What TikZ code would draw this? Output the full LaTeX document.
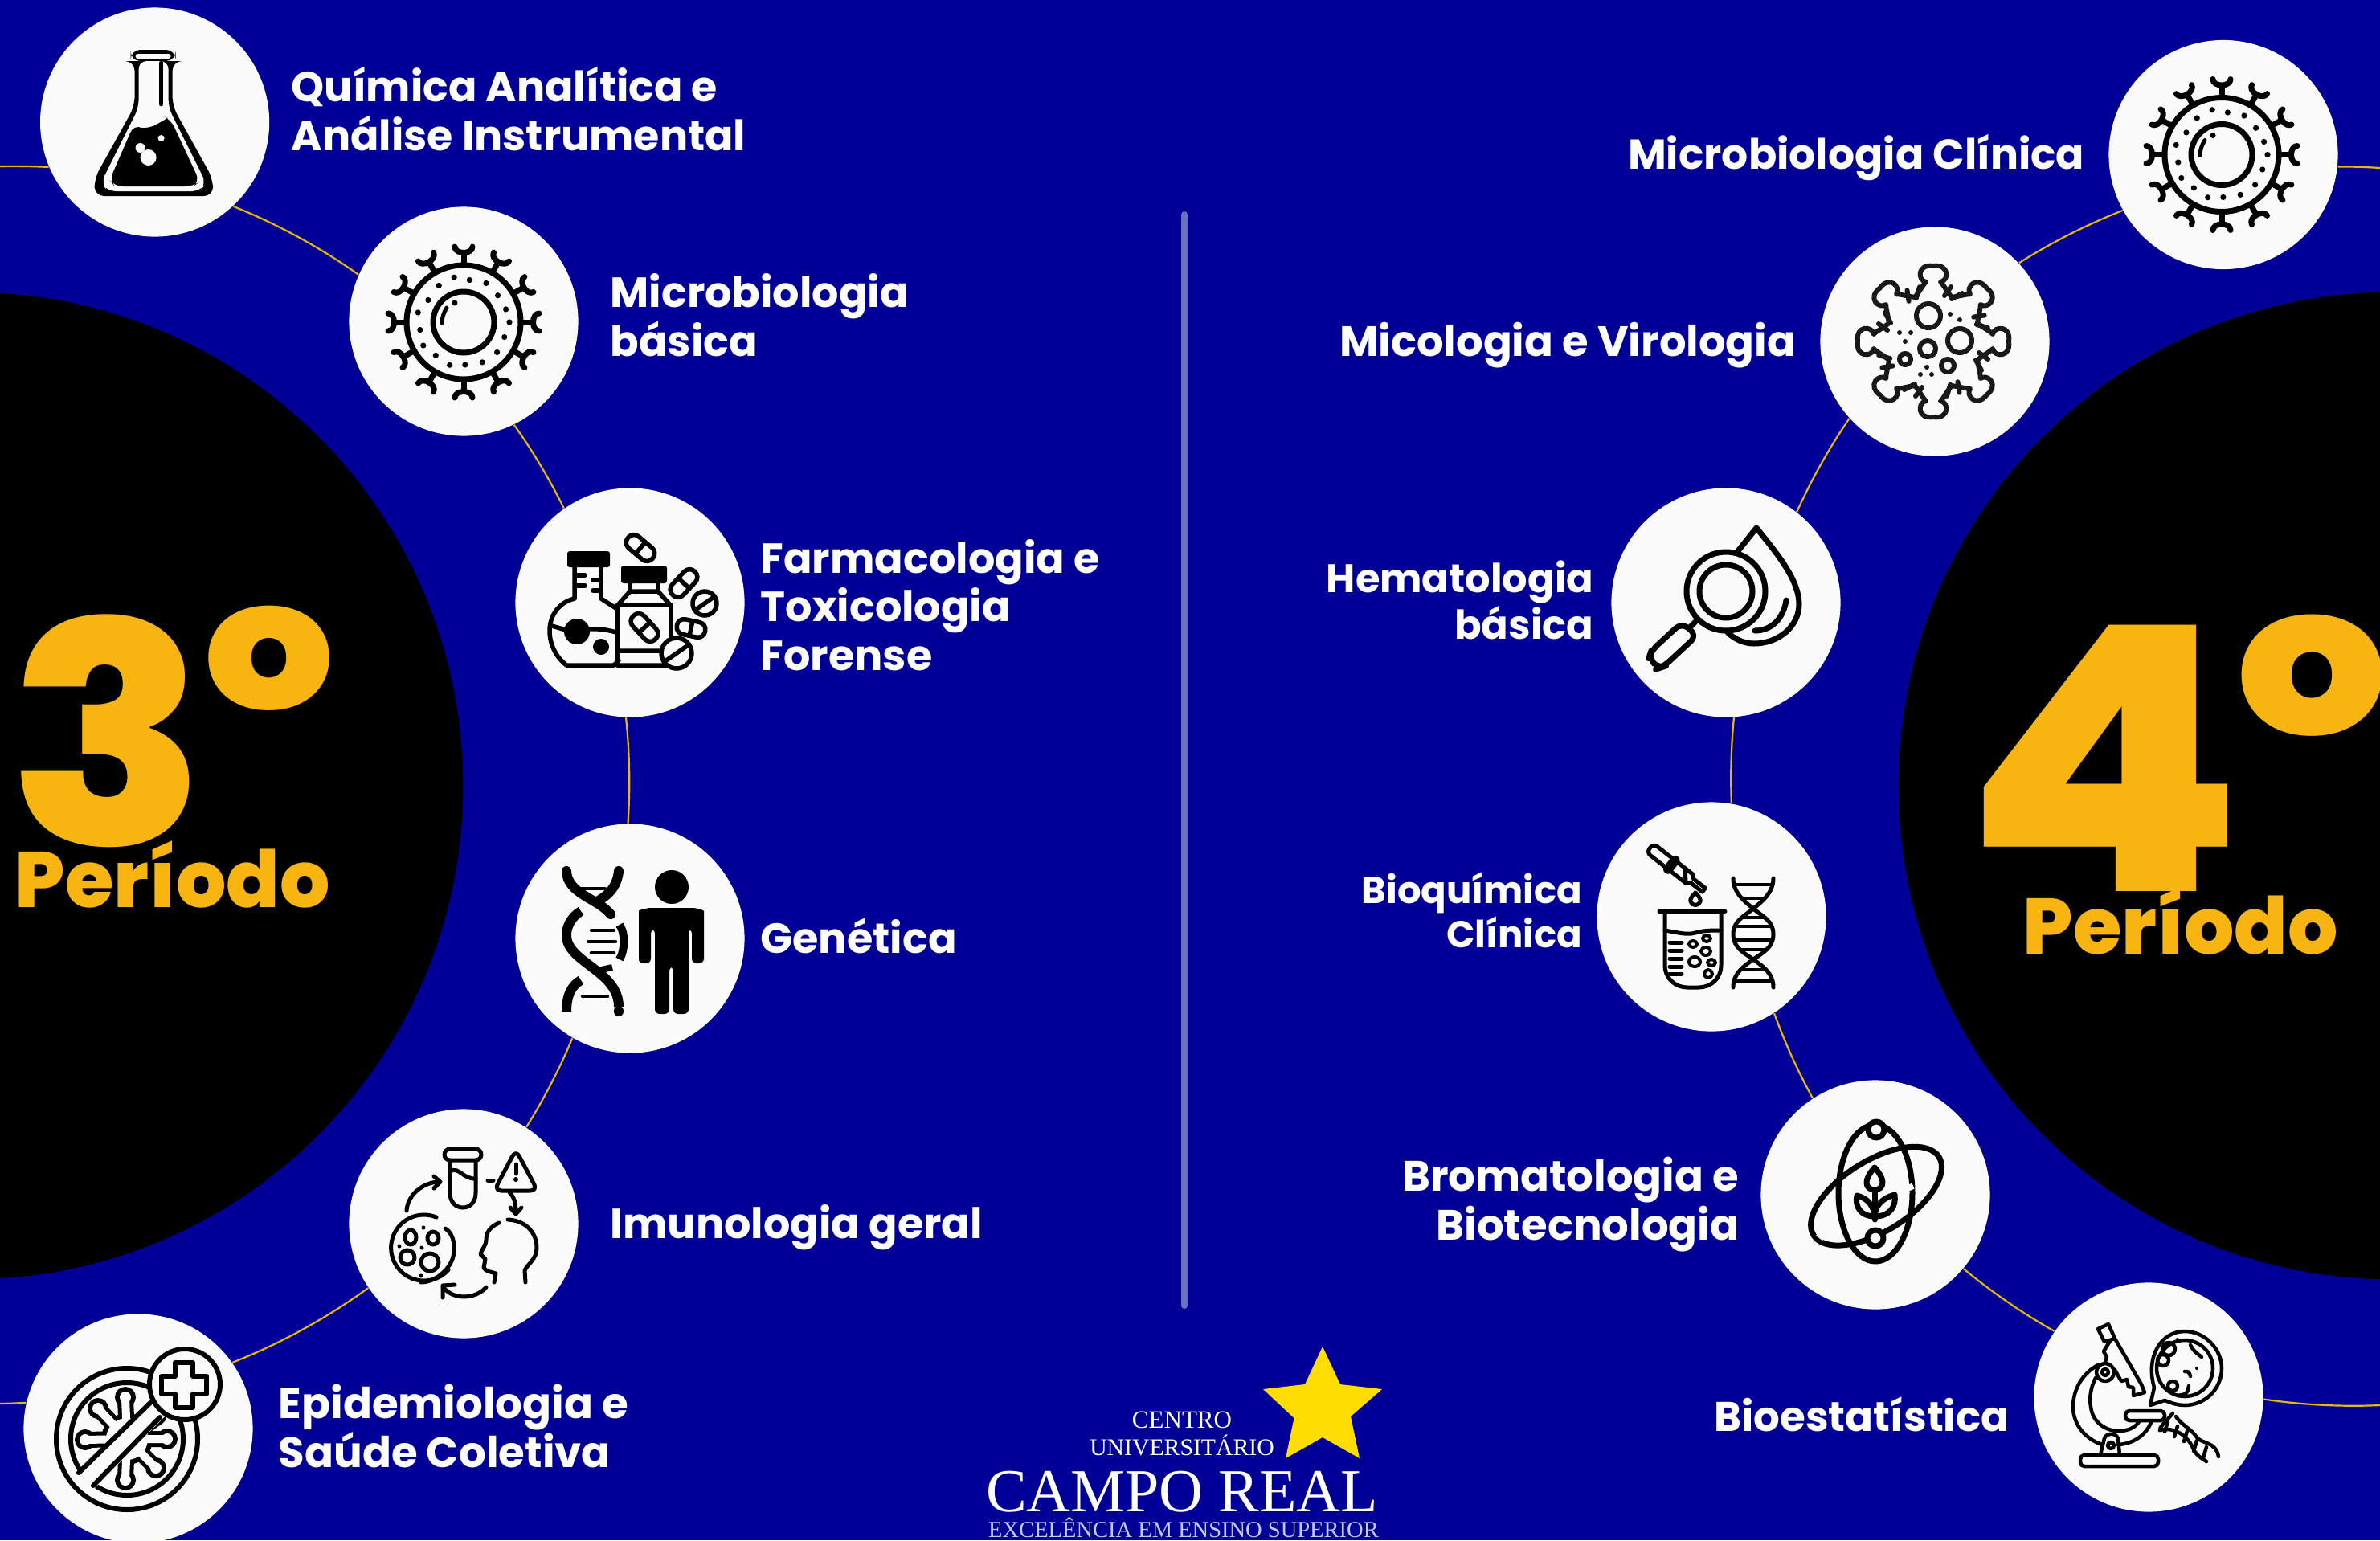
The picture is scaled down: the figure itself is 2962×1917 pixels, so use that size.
\documentclass[tikz,border=0pt]{standalone}
\usepackage{fontspec}
\setmainfont{Liberation Serif}
\newfontfamily\lbl{Poppins}[UprightFont=* Bold]
\newfontfamily\heavy{Poppins}[UprightFont=* ExtraBold]
\definecolor{bgblue}{HTML}{000096}
\definecolor{paper}{HTML}{FBFBFB}
\definecolor{arcgold}{HTML}{E6B80C}
\definecolor{numgold}{HTML}{F8B411}
\definecolor{divcol}{HTML}{6B70C0}
\definecolor{stargold}{HTML}{FFDD00}
\definecolor{mott}{HTML}{C6C9EC}
\newcommand{\pxfont}[1]{\fontsize{\fpeval{#1*0.28453}pt}{\fpeval{#1*0.28453*1.15}pt}\selectfont}
\newcommand{\pxl}[2]{\fontsize{\fpeval{#1*0.28453}pt}{\fpeval{#2*0.28453}pt}\selectfont}
\tikzset{
 disc/.style={circle,fill=paper,inner sep=0pt,minimum size=2.85cm},
 bigdisc/.style={circle,fill=black,inner sep=0pt,minimum size=12.28cm},
 arcline/.style={draw=arcgold,line width=0.022cm,looseness=.85},
 lab/.style={text=white,inner sep=0pt},
 labL/.style={lab,anchor=base west,align=left,font={\lbl\pxl{52.4}{60}}},
 labR/.style={lab,anchor=base east,align=right,font={\lbl\pxl{52.4}{60}}},
 bign/.style={text=numgold,inner sep=0pt,font=\heavy,anchor=base west},
 logot/.style={inner sep=0pt,text=white,anchor=base},
 ic/.style={draw=black,line width=0.07cm,line cap=round,line join=round},
 ict/.style={draw=black,line width=0.05cm,line cap=round,line join=round},
}
\newcommand{\cellicon}{%
 \draw[ic] (0,0) circle[radius=71];
 \draw[ic] (0,0) circle[radius=38];
 \foreach \a in {0,30,...,330}{%
  \begin{scope}[rotate=\a]
   \draw[ic] (72,0)--(86,0);
   \draw[ic] (94,-11) .. controls (84,-11) and (84,11) .. (94,11);
  \end{scope}}
 \foreach \a/\r in {0/57,20/54,42/56,65/55,88/53,108/56,130/54,150/58,170/55,192/58,212/52,236/55,258/57,278/53,300/56,322/54,343/55}{\fill (\a:\r) circle[radius=3.6];}
 \draw[ic,line width=0.05cm] (-21,-18) .. controls (-25,-12) and (-27,-5) .. (-27,1);
 \fill (-11,-24) circle[radius=3.5];
}
\newcommand{\capsicon}[4]{%
 \begin{scope}[shift={(#1,#2)},rotate=#3]
  \draw[ic,line width=0.055cm,fill=paper,rounded corners=0.09cm] (-#4,-9.5) rectangle (#4,9.5);
  \draw[ic,line width=0.055cm] (0,-9.5)--(0,9.5);
 \end{scope}}
\newcommand{\pillicon}[4]{%
 \begin{scope}[shift={(#1,#2)}]
  \draw[ic,line width=0.055cm,fill=paper] (0,0) circle[radius=#3];
  \draw[ic,line width=0.055cm,rotate=#4] (-#3,0)--(#3,0);
 \end{scope}}
\begin{document}
\begin{tikzpicture}[x=0.01cm,y=-0.01cm]
\path[use as bounding box,fill=bgblue] (0,0) rectangle (2962,1917);
\node[bigdisc] (bigL) at (-38,978) {};
\node[bigdisc] (bigR) at (2977,978) {};
\draw[line width=0.08cm,line cap=round,draw=divcol] (1474,267)--(1474,1625);
% nodes
\node[disc] (L1) at (192.6,152) {};
\node[disc] (L2) at (577,400) {};
\node[disc] (L3) at (784,750) {};
\node[disc] (L4) at (784,1168) {};
\node[disc] (L5) at (577,1523) {};
\node[disc] (L6) at (172,1778) {};
\node[disc] (R1) at (2767,192.5) {};
\node[disc] (R2) at (2408,425) {};
\node[disc] (R3) at (2148,750) {};
\node[disc] (R4) at (2130,1141) {};
\node[disc] (R5) at (2334,1487) {};
\node[disc] (R6) at (2674,1739) {};
\coordinate (fL1) at (0,207);
\coordinate (fL2) at (0,1747);
\coordinate (fR1) at (2962,209);
\coordinate (fR2) at (2962,1749);
% connectors
\draw[arcline] (fL1) to[bend left=2] (L1.203);
\draw[arcline] (L1.-47) to[bend left=6.7] (L2.156);
\draw[arcline] (L2.-64) to[bend left=4.6] (L3.125);
\draw[arcline] (L3.-92) to[bend left=5] (L4.91);
\draw[arcline] (L4.-120) to[bend left=4.7] (L5.57);
\draw[arcline] (L5.214.5) to[bend left=7.2] (L6.35);
\draw[arcline] (L6.167) to[bend left=1.3] (fL2);
\draw[arcline] (fR1) to[bend right=2] (R1.-6.3);
\draw[arcline] (R1.209) to[bend right=5.4] (R2.43);
\draw[arcline] (R2.222.7) to[bend right=5] (R3.52.8);
\draw[arcline] (R3.-86.4) to[bend right=4] (R4.80.7);
\draw[arcline] (R4.-57.6) to[bend right=4.4] (R5.123);
\draw[arcline] (R5.-40.7) to[bend right=5.1] (R6.145);
\draw[arcline] (R6.-1.2) to[bend right=5.5] (fR2);
% labels left
\node[labL,font={\lbl\pxl{52.2}{60}}] (tL1) at (362,187) {Química Analítica e\\Análise Instrumental};
\node[labL] (tL2) at (759,443) {Microbiologia\\básica};
\node[labL] (tL3) at (946,834) {Farmacologia e\\Toxicologia\\Forense};
\node[labL] (tL4) at (946,1186) {Genética};
\node[labL] (tL5) at (759,1541) {Imunologia geral};
\node[labL,font={\lbl\pxl{53}{60}}] (tL6) at (346,1826) {Epidemiologia e\\Saúde Coletiva};
% labels right
\node[labR,font={\lbl\pxl{52}{60}}] (tR1) at (2595,210.5) {Microbiologia Clínica};
\node[labR,font={\lbl\pxl{52.8}{60}}] (tR2) at (2236,443) {Micologia e Virologia};
\node[labR,font={\lbl\pxl{49.5}{57}}] (tR3) at (1984,795) {Hematologia\\básica};
\node[labR,font={\lbl\pxl{46.5}{54}}] (tR4) at (1970,1179) {Bioquímica\\Clínica};
\node[labR,font={\lbl\pxl{52.9}{60}}] (tR5) at (2165,1543) {Bromatologia e\\Biotecnologia};
\node[labR,font={\lbl\pxl{51.5}{60}}] (tR6) at (2501,1781) {Bioestatística};
% numbers
\node[bign] (n3) at (10,1052) {\pxfont{385}\scalebox{1.05}[1]{3}\hspace{-0.06cm}\raisebox{0.42cm}{\pxfont{360}º}};
\node[bign] (p3) at (18,1129) {\pxfont{98}Período};
\node[bign] (n4) at (2443,1109) {\pxfont{460}\scalebox{1.1}[1]{4}\hspace{-0.13cm}\raisebox{0.47cm}{\pxfont{418}º}};
\node[bign] (p4) at (2517,1187) {\pxfont{98}Período};
% logo
\path[fill=stargold] (1646,1676)--(1668,1723)--(1720,1729)--(1681,1763)--(1692,1815)--(1646,1789)--(1600,1815)--(1610.5,1765)--(1572,1729)--(1624,1723)--cycle;
\node[logot] (lg1) at (1471,1777) {\pxfont{31}CENTRO};
\node[logot] (lg2) at (1471,1811) {\pxfont{29.7}UNIVERSITÁRIO};
\node[logot] (lg3) at (1471,1881) {\pxfont{76}CAMPO REAL};
\node[logot,text=mott] (lg4) at (1473,1913) {\pxfont{28.5}EXCELÊNCIA EM ENSINO SUPERIOR};
% ---- icon L1 flask
\begin{scope}[shift={(L1.center)}]
 \fill[black,rounded corners=0.12cm] (-30,-90) -- (26,-90) -- (26,-76) -- (22,-76) -- (22,-20) -- (72,70) -- (73,92) -- (-75,92) -- (-75,70) -- (-25,-20) -- (-25,-76) -- (-30,-76) -- cycle;
 \fill[paper,rounded corners=0.03cm] (-24,-85) -- (20,-85) -- (20,-79) -- (-24,-79) -- cycle;
 \fill[paper,rounded corners=0.1cm] (-20,-76) -- (17,-76) -- (17,-18) -- (64,76) -- (56,86) -- (-58,86) -- (-67,76) -- (-20,-18) -- cycle;
 \fill[black,rounded corners=0.1cm] (-26,3) .. controls (-14,8) and (-4,6) .. (8,0) .. controls (14,-4) and (18,-4) .. (20,-3) -- (56,74) -- (48,80) -- (-50,80) -- (-56,72) -- cycle;
 \draw[line width=0.045cm,line cap=round] (8,-74)--(8,-22);
 \fill[paper] (-18,32) circle[radius=6];
 \fill[paper] (-8,44) circle[radius=10];
 \fill[paper] (8,20) circle[radius=4];
\end{scope}
% ---- L2 cell
\begin{scope}[shift={(L2.center)},yshift=-0.01cm]\cellicon\end{scope}
% ---- R1 cell
\begin{scope}[shift={(R1.center)},xshift=-0.02cm]\cellicon\end{scope}
% ---- L3 flask and pills
\begin{scope}[shift={(L3.center)}]
 \fill[rounded corners=0.03cm] (-78,-64) rectangle (-25,-44);
 \draw[ic,line width=0.055cm] (-69,-44)--(-69,-5) .. controls (-90,0) and (-100,18) .. (-100,35) .. controls (-100,52) and (-92,68) .. (-79,78) -- (-20,78) -- (-14,72);
 \draw[ic,line width=0.055cm] (-36,-44)--(-36,-5)--(-16,8);
 \draw[ic,line width=0.055cm] (-66,-34)--(-56,-34) (-66,-21)--(-56,-21) (-46,-28)--(-36,-28) (-46,-15)--(-36,-15);
 \draw[ic,line width=0.055cm] (-97,29)--(-80,34) (-51,33) .. controls (-40,32) and (-28,34) .. (-17,37);
 \fill (-66,36) ellipse[x radius=16,y radius=16];
 \fill (-36,55) circle[radius=10];
 \fill[rounded corners=0.03cm] (-11,-46) rectangle (46,-24);
 \draw[ic,line width=0.055cm] (0,-24)--(0,-14) (35,-24)--(35,-14) (0,-14)--(35,-14) (0,-14)--(-16,4)--(-16,78)--(51,78)--(51,4)--(35,-14) (-16,3)--(51,3) (-16,60)--(51,60);
 \capsicon{18}{31}{-47}{20}
 \capsicon{13}{-68}{-40}{20}
 \capsicon{67}{-24}{47}{20}
 \pillicon{93}{1}{15}{35}
 \capsicon{76}{32}{-12}{18}
 \pillicon{58}{63}{19}{35}
\end{scope}
% ---- L4 DNA and person
\begin{scope}[shift={(L4.center)}]
 \fill (52,-64) circle[radius=21];
 \fill[rounded corners=0.06cm] (11,25) -- (11,-28) .. controls (11,-36) and (25,-38) .. (30,-38) -- (73,-38) .. controls (80,-38) and (92,-36) .. (92,-28) -- (92,31) -- (77,31) -- (77,-12) -- (73,-12) -- (73,94) -- (54,94) -- (54,35) -- (49,35) -- (49,94) -- (31,94) -- (31,-12) -- (26,-12) -- (26,31) -- (11,31) -- cycle;
 \begin{scope}[line width=0.12cm,line cap=round]
  \draw (-79,-84) .. controls (-78,-55) and (-40,-50) .. (-24,-30);
  \draw[line cap=butt] (-14,-84) .. controls (-16,-62) and (-30,-52) .. (-41,-46);
  \draw (-14,-84)--(-14,-83);
  \draw[line cap=butt] (-61,-34) .. controls (-74,-26) and (-79,-14) .. (-79,-4) .. controls (-79,30) and (-14,40) .. (-14,85);
  \draw (-14,90)--(-14,91);
  \draw[line cap=butt] (-61,52) .. controls (-72,58) and (-79,70) .. (-79,91);
  \draw[line cap=butt,line width=0.1cm] (-13,-17) .. controls (-6,-8) and (-6,15) .. (-13,26);
  \draw[line cap=butt,line width=0.08cm] (-40,40)--(-22,36);
 \end{scope}
 \begin{scope}[line width=0.045cm,line cap=round]
  \draw (-60,-62)--(-31,-62) (-48,-10)--(-20,-10) (-52,4)--(-18,4) (-48,18)--(-20,18) (-59,72)--(-28,72);
 \end{scope}
\end{scope}
% ---- L5
\begin{scope}[shift={(L5.center)}]
 \draw[ict,rounded corners=0.07cm] (-24,-93) rectangle (22,-79);
 \draw[ict] (-17,-79)--(-17,-38) .. controls (-17,-14) and (15,-14) .. (15,-38) -- (15,-79);
 \draw[ict] (-17,-65) .. controls (-6,-72) and (-1,-55) .. (15,-56);
 \draw[ict,rounded corners=0.09cm] (65,-92)--(92,-41)--(38,-41)--cycle;
 \draw[ict] (65,-74)--(65,-62); \fill (65,-55) circle[radius=3];
 \draw[ict] (30,-54)--(37,-54);
 \draw[ict] (57,-39) .. controls (64,-32) and (65,-24) .. (65,-13);
 \draw[ict] (58,-20)--(65,-12)--(72,-20);
 \draw[ict] (-71,-16) .. controls (-70,-36) and (-50,-52) .. (-30,-52);
 \draw[ict] (-37,-59)--(-29,-52)--(-37,-44);
 \draw[ict] (-34,-8) arc[start angle=-68,delta angle=-250,radius=41] ;
 \draw[ict] (-53,32)++(30,-26) .. controls (-9,14) and (-9,40) .. (-18,52) .. controls (-27,66) and (-42,73) .. (-53,73);
 \draw[ict] (-66,17) ellipse[x radius=7,y radius=9] (-38,18) ellipse[x radius=7,y radius=8] (-70,42) ellipse[x radius=9,y radius=9] (-42,48) ellipse[x radius=11,y radius=11];
 \fill (-50,5) circle[radius=2.5] (-52,30) circle[radius=2.5] (-80,28) circle[radius=2.5] (-53,65) circle[radius=2.5];
 \draw[ict] (44,-1) .. controls (32,4) and (28,12) .. (28,20) .. controls (28,28) and (22,32) .. (21,38) -- (27,44) -- (25,55) .. controls (28,60) and (35,60) .. (40,62) -- (38,73);
 \draw[ict] (55,-5) .. controls (78,-4) and (91,12) .. (91,30) .. controls (91,44) and (80,50) .. (76,58) -- (77,73);
 \draw[ict] (28,79) .. controls (18,92) and (-12,98) .. (-26,78);
 \draw[ict] (-26,92)--(-26,77)--(-11,76);
\end{scope}
% ---- L6
\begin{scope}[shift={(L6.center)}]
 \draw[ic,line width=0.06cm] (-14,13) circle[radius=88];
 \draw[ic,line width=0.06cm] (-14,13) circle[radius=70];
 \begin{scope}[line cap=round]
  \draw[line width=0.2cm] (-50,-25)--(-14,13) (-16,-39)--(-14,13) (-66,14)--(-14,13) (36,13)--(-14,13) (-16,64)--(-14,13) (22,49)--(-14,13) (25,-15)--(-14,13);
  \fill (-14,13) circle[radius=32];
  \foreach \p in {(-50,-25),(-16,-39),(-66,14),(36,13),(-16,64),(22,49)}{\fill \p circle[radius=13];}
  \draw[line width=0.1cm,paper] (-50,-25)--(-14,13) (-16,-39)--(-14,13) (-66,14)--(-14,13) (36,13)--(-14,13) (-16,64)--(-14,13) (22,49)--(-14,13) (25,-15)--(-14,13);
  \fill[paper] (-14,13) circle[radius=26];
  \foreach \p in {(-50,-25),(-16,-39),(-66,14),(36,13),(-16,64),(22,49)}{\fill[paper] \p circle[radius=7];}
 \end{scope}
 \fill[paper] (15,-36)--(-76,56)--(-56,76)--(34,-16)--cycle;
 \draw[ic,line width=0.06cm] (15,-32)--(-74,55) (27,-14)--(-56,71);
 \draw[ic,line width=0.06cm,fill=paper] (58,-55) circle[radius=44];
 \draw[ic,line width=0.06cm] (46,-82)--(68,-82)--(68,-65)--(85,-65)--(85,-43)--(68,-43)--(68,-26)--(46,-26)--(46,-43)--(29,-43)--(29,-65)--(46,-65)--cycle;
\end{scope}
% ---- R2 virus
\begin{scope}[shift={(R2.center)},line width=0.06cm,line cap=round,line join=round,draw=black!90]
 \foreach \a in {0,45,...,315}{%
  \begin{scope}[shift={(-2,0)},rotate=\a]
   \draw[black!90] (55,-23) .. controls (62,-17) and (72,-12) .. (74,-9) .. controls (76,-20) and (97,-20) .. (94,0) .. controls (97,20) and (76,20) .. (74,9) .. controls (72,12) and (62,17) .. (55,23);
   \draw[black!90] (57,14)--(68,22) (53,23)--(60,36);
  \end{scope}}
 \begin{scope}[black!90]
 \draw[black!90] (-8,-32) ellipse[x radius=15,y radius=15] (31,-1) ellipse[x radius=15,y radius=15] (-9,9) circle[radius=10] (16,30) circle[radius=8] (-37,22) circle[radius=7];
 \fill (19,-34) circle[radius=3] (31,-27) circle[radius=3] (-44,-11) circle[radius=3] (-30,-11) circle[radius=3] (-37,0) circle[radius=3] (-10,32) circle[radius=3] (-18,41) circle[radius=3] (-4,41) circle[radius=3];
 \end{scope}
\end{scope}
% ---- R3
\begin{scope}[shift={(R3.center)}]
 \draw[ic] (0,-14) circle[radius=49];
 \draw[ic] (0,-14) circle[radius=33];
 \draw[ic] (-38,24)--(-46,32);
 \draw[ic,rounded corners=0.1cm] (-55,25)--(-36,41)--(-78,80)--(-84,82)--(-96,69)--(-93,60)--cycle;
 \draw[ic] (14,-63)--(38,-93) .. controls (60,-65) and (91,-30) .. (91,2) .. controls (91,30) and (65,51) .. (35,51) .. controls (22,51) and (10,45) .. (2,37);
 \draw[ic] (75,-3) .. controls (72,18) and (58,35) .. (36,35);
\end{scope}
% ---- R4
\begin{scope}[shift={(R4.center)}]
 \begin{scope}[shift={(-45,-61)},rotate=-38]
  \draw[ict,rounded corners=0.06cm] (-40,-7) rectangle (-6,7);
  \draw[ict,line width=0.06cm,rounded corners=0.03cm] (-9,-10) rectangle (-3,10);
  \draw[ict] (-3,-7)--(22,-7)--(26,-3)--(45,-3)--(45,3)--(26,3)--(22,7)--(-3,7);
  \draw[ict] (10,-7)--(22,7);
 \end{scope}
 \draw[ict] (-20,-30) .. controls (-16,-26) and (-13,-22) .. (-14,-19) .. controls (-15,-13) and (-25,-13) .. (-26,-19) .. controls (-27,-22) and (-24,-26) .. (-20,-30);
 \draw[ict] (-65,-7)--(17,-7);
 \draw[ict] (-58,-7)--(-58,60) .. controls (-58,78) and (-44,88) .. (-30,88) -- (-16,88) .. controls (-2,88) and (12,78) .. (12,60) -- (12,-7);
 \draw[ict] (-58,17) .. controls (-40,20) and (-30,23) .. (-20,20) .. controls (-10,17) and (0,17) .. (12,17);
 \draw[ict] (-52,32)--(-37,32) (-52,42)--(-37,42) (-52,52)--(-37,52) (-52,62)--(-37,62) (-52,71)--(-37,71);
 \draw[ict,line width=0.04cm] (-23,34) ellipse[x radius=5,y radius=4] (-6,27) ellipse[x radius=5,y radius=4] (-7,43) ellipse[x radius=6,y radius=5] (-21,56) ellipse[x radius=7,y radius=6] (0,57) ellipse[x radius=5,y radius=4] (-4,71) ellipse[x radius=5,y radius=5];
 \draw[ict] (27,-48) .. controls (27,-30) and (40,-20) .. (52,-10) .. controls (64,0) and (77,5) .. (77,22) .. controls (77,38) and (64,45) .. (52,53) .. controls (40,62) and (27,70) .. (27,88);
 \draw[ict] (77,-48) .. controls (77,-30) and (64,-20) .. (52,-10) .. controls (40,0) and (27,5) .. (27,22) .. controls (27,38) and (40,45) .. (52,53) .. controls (64,62) and (77,70) .. (77,88);
 \draw[ict,line width=0.04cm] (29,-40)--(75,-40) (38,-23)--(66,-23) (37,1)--(67,1) (29,12)--(75,12) (28,29)--(76,29) (37,41)--(67,41) (37,66)--(67,66) (29,80)--(75,80);
\end{scope}
% ---- R5
\begin{scope}[shift={(R5.center)}]
 \draw[ic] (0,-2) ellipse[x radius=46,y radius=85];
 \draw[ic,rotate=32] (0,2) ellipse[x radius=92,y radius=44];
 \draw[paper,line width=0.12cm] (40,-12)--(43,-5);
 \draw[paper,line width=0.1cm] (-71,47)--(-63,53);
 \draw[ic,fill=paper] (1,-81) circle[radius=10];
 \draw[ic,fill=paper] (0,54) circle[radius=10];
 \draw[ic] (-1,31)--(-1,-6);
 \draw[ic] (-1,-34) .. controls (-8,-26) and (-11,-20) .. (-11,-15) .. controls (-11,-9) and (-6,-6) .. (-1,-6) .. controls (4,-6) and (9,-9) .. (9,-15) .. controls (9,-20) and (6,-26) .. (-1,-34);
 \draw[ic] (-23,1) .. controls (-26,15) and (-18,27) .. (-1,27) .. controls (-2,15) and (-8,5) .. (-23,1);
 \draw[ic] (24,0) .. controls (26,15) and (18,27) .. (-1,27) .. controls (0,15) and (6,5) .. (24,0);
\end{scope}
% ---- R6
\begin{scope}[shift={(R6.center)},every path/.append style={line width=0.045cm,line cap=round,line join=round}]
 \draw[rounded corners=0.05cm] (-85,72) rectangle (12,86);
 \draw (-60,72)--(-55,51) .. controls (-52,44) and (-41,44) .. (-38,51)--(-36,72);
 \draw (-47,60) circle[radius=4];
 \draw (-63,-40) .. controls (-82,-30) and (-94,-10) .. (-94,12) .. controls (-94,35) and (-78,52) .. (-58,59);
 \draw (-38,59) .. controls (-18,58) and (-2,46) .. (4,29);
 \draw (-66,-24) .. controls (-72,-12) and (-74,0) .. (-72,12) .. controls (-70,30) and (-55,42) .. (-37,42) .. controls (-26,42) and (-16,38) .. (-11,29);
 \draw[rounded corners=0.05cm] (-29,17) rectangle (20,29);
 \draw (-63,-85)--(-50,-91)--(-42,-73)--(-55,-69)--cycle;
 \draw (-48,-70)--(-56,-57)--(-52,-50)--(-54,-44) (-42,-73)--(-9,-16)--(-5,-6)--(-19,-2)--(-19,-12)--(-25,-13)--(-27,-22)--(-34,-20)--(-42,-34);
 \fill[paper] (-54,-31) circle[radius=11];
 \draw (-54,-31) circle[radius=11];
 \draw (-54,-31) circle[radius=4];
 \draw[fill=paper] (2,10) -- (7,-12) .. controls (-4,-50) and (15,-82) .. (45,-82) .. controls (70,-82) and (91,-60) .. (91,-36) .. controls (91,-10) and (70,10) .. (45,10) .. controls (34,10) and (26,6) .. (20,4) -- cycle;
 \draw (45,-36) circle[radius=35];
 \draw (25,-60) circle[radius=8] (18,-46) circle[radius=7] (30,-14) circle[radius=6];
 \draw (52,-65) .. controls (56,-58) .. (66,-50) (45,-32) .. controls (50,-32) .. (52,-26) (36,-2) .. controls (48,-4) .. (50,-14);
 \fill (36,-72) circle[radius=2] (60,-36) circle[radius=2];
 \draw (30,20) .. controls (22,30) and (14,36) .. (14,41) (34,24) .. controls (40,34) and (54,40) .. (60,50) .. controls (66,58) and (84,55) .. (87,74);
 \draw (14,41) .. controls (34,36) and (50,50) .. (56,65) .. controls (60,74) and (70,78) .. (72,80);
 \foreach \k in {0,2,4}{\draw ({24+\k*6},{30+\k*3})--({20+\k*6},{43+\k*3});}
 \foreach \k in {0,2}{\draw ({60+\k*6},{54+\k*4})--({56+\k*6},{67+\k*4});}
\end{scope}
\end{tikzpicture}
\end{document}
